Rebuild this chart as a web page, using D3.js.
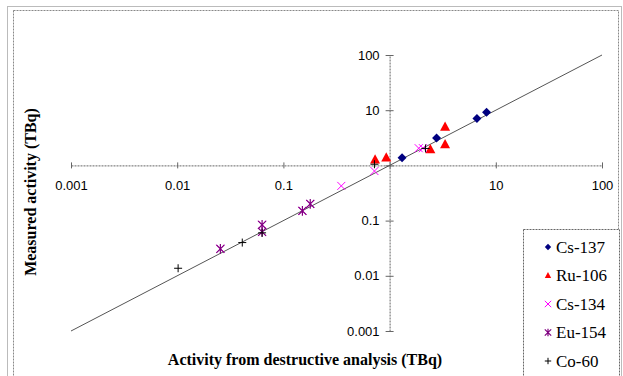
<!DOCTYPE html>
<html>
<head>
<meta charset="utf-8">
<script src="https://cdn.jsdelivr.net/npm/d3@7/dist/d3.min.js"></script>
<style>
  html, body { margin: 0; padding: 0; background: #fff; }
  svg { display: block; }
</style>
</head>
<body>
<svg id="chart" width="623" height="376"></svg>
<script>
// Decade tick values shared by both log axes
const tickValues = [0.001, 0.01, 0.1, 1, 10, 100];
const tickLabels = ["0.001", "0.01", "0.1", "1", "10", "100"];

// Each nuclide: [activity from destructive analysis, measured activity] in TBq
const cs137 = [[1.31, 1.38], [2.77, 3.15], [6.64, 7.05], [8.19, 9.2]];
const ru106 = [[0.73, 1.26], [0.93, 1.38], [2.42, 1.95], [3.33, 4.98], [3.33, 2.40]];
const cs134 = [[0.0255, 0.031], [0.063, 0.084], [0.063, 0.062], [0.151, 0.15], [0.179, 0.20],
               [0.351, 0.425], [0.72, 0.79], [1.88, 2.05], [2.06, 2.05]];
const eu154 = [[0.0255, 0.0307], [0.063, 0.0836], [0.063, 0.0624], [0.151, 0.150], [0.179, 0.201]];
const co60  = [[0.0102, 0.0137], [0.041, 0.040], [0.063, 0.060], [0.72, 1.05], [2.18, 2.03]];

const seriesNames = ["Cs-137", "Ru-106", "Cs-134", "Eu-154", "Co-60"];
const seriesData = [cs137, ru106, cs134, eu154, co60];
const seriesColors = ["#000080", "#ff0000", "#ff00ff", "#800080", "#000000"];
const seriesShapes = ["diamond", "triangle", "cross", "star", "plus"];

// 1:1 reference line endpoints
const identity = [0.001, 100];

const svg = d3.select("#chart");

// Frame around the chart area
svg.append("rect").attr("x", 7.5).attr("y", 6.5).attr("width", 614).attr("height", 380)
  .attr("fill", "none").attr("stroke", "#bbb").attr("stroke-width", 1);
svg.append("rect").attr("x", 13.5).attr("y", 10.5).attr("width", 605).attr("height", 380)
  .attr("fill", "none").attr("stroke", "#888").attr("stroke-width", 1).attr("stroke-dasharray", "2,1");

const x = d3.scaleLog().domain([0.001, 100]).range([71, 602]);
const y = d3.scaleLog().domain([0.001, 100]).range([331, 55]);

const axisColor = "#666";

// Horizontal axis crossing at y = 1
const gx = svg.append("g").attr("transform", `translate(0,${y(1)})`)
  .call(d3.axisBottom(x).tickValues(tickValues).tickSizeInner(3).tickSizeOuter(0)
    .tickFormat((d, i) => tickLabels[i]));
gx.select(".domain").attr("stroke", axisColor).attr("stroke-dasharray", "2,1");
gx.selectAll(".tick line").attr("y1", -3).attr("y2", 3).attr("stroke", axisColor);
gx.selectAll(".tick text").attr("y", 20).attr("dy", "0.32em")
  .attr("font-family", "'Liberation Sans', Arial, sans-serif").attr("font-size", 13).attr("fill", "#000");
gx.selectAll(".tick").filter(d => d === 1).select("text").remove();

// Vertical axis crossing at x = 1
const gy = svg.append("g").attr("transform", `translate(${x(1)},0)`)
  .call(d3.axisLeft(y).tickValues(tickValues).tickSizeInner(4).tickSizeOuter(0)
    .tickFormat((d, i) => tickLabels[i]));
gy.select(".domain").attr("stroke", axisColor).attr("stroke-dasharray", "2,1");
gy.selectAll(".tick line").attr("x1", -4).attr("x2", 4).attr("stroke", axisColor);
gy.selectAll(".tick text").attr("x", -10)
  .attr("font-family", "'Liberation Sans', Arial, sans-serif").attr("font-size", 13).attr("fill", "#000");
gy.selectAll(".tick").filter(d => d === 1).select("text").remove();

// 1:1 line
svg.append("line")
  .attr("x1", x(identity[0])).attr("y1", y(identity[0]))
  .attr("x2", x(identity[1])).attr("y2", y(identity[1]))
  .attr("stroke", "#555").attr("stroke-width", 1);

// Marker drawing helper
function drawMarker(g, shape, color, s) {
  if (shape === "diamond") {
    g.append("path").attr("d", `M0,${-s}L${s},0L0,${s}L${-s},0Z`).attr("fill", color);
  } else if (shape === "triangle") {
    g.append("path").attr("d", `M0,${-s * 1.1}L${s},${s * 0.75}L${-s},${s * 0.75}Z`).attr("fill", color);
  } else if (shape === "cross") {
    g.append("path").attr("d", `M${-s},${-s}L${s},${s}M${-s},${s}L${s},${-s}`)
      .attr("stroke", color).attr("stroke-width", 1).attr("fill", "none");
  } else if (shape === "star") {
    g.append("path").attr("d", `M${-s},${-s}L${s},${s}M${-s},${s}L${s},${-s}M0,${-s * 1.2}L0,${s * 1.2}`)
      .attr("stroke", color).attr("stroke-width", 1.2).attr("fill", "none");
  } else if (shape === "plus") {
    g.append("path").attr("d", `M${-s},0L${s},0M0,${-s}L0,${s}`)
      .attr("stroke", color).attr("stroke-width", 1).attr("fill", "none");
  }
}

// Plot points, drawn in series order
const plotSizes = [4.5, 5, 4, 4, 4];
seriesData.forEach((data, i) => {
  const g = svg.append("g");
  data.forEach(d => {
    const m = g.append("g").attr("transform", `translate(${x(d[0])},${y(d[1])})`);
    drawMarker(m, seriesShapes[i], seriesColors[i], plotSizes[i]);
  });
});

// Axis titles
svg.append("text").attr("x", 305).attr("y", 365).attr("text-anchor", "middle")
  .attr("font-family", "'Liberation Serif', 'Times New Roman', serif").attr("font-weight", "bold")
  .attr("font-size", 16).text("Activity from destructive analysis (TBq)");
svg.append("text").attr("transform", "translate(36,192) rotate(-90)").attr("text-anchor", "middle")
  .attr("font-family", "'Liberation Serif', 'Times New Roman', serif").attr("font-weight", "bold")
  .attr("font-size", 16).text("Measured activity (TBq)");

// Legend
svg.append("rect").attr("x", 523.5).attr("y", 229.5).attr("width", 96).attr("height", 160)
  .attr("fill", "#fff").attr("stroke", "#666").attr("stroke-dasharray", "2,1");
const legendY = [247, 275.5, 304, 332.5, 361];
seriesNames.forEach((name, i) => {
  const m = svg.append("g").attr("transform", `translate(548,${legendY[i]})`);
  drawMarker(m, seriesShapes[i], seriesColors[i], 3.2);
  svg.append("text").attr("x", 556).attr("y", legendY[i]).attr("dy", "0.35em")
    .attr("font-family", "'Liberation Serif', 'Times New Roman', serif")
    .attr("font-size", 17).text(name);
});
</script>
</body>
</html>
